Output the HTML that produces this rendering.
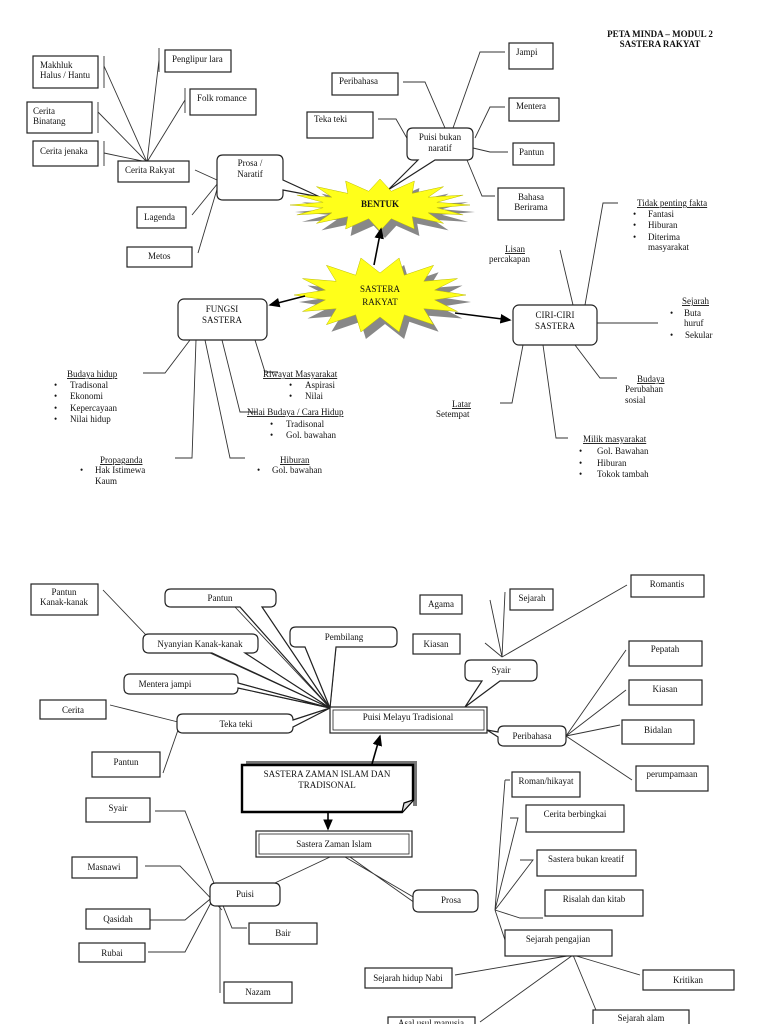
<!DOCTYPE html>
<html><head><meta charset="utf-8"><style>
html,body{margin:0;padding:0;background:#fff}
svg{display:block}
text{font-family:"Liberation Serif",serif;font-size:9px;fill:#111}
.b{fill:#fff;stroke:#222;stroke-width:1.2}
.l{fill:none;stroke:#333;stroke-width:0.9}
.u{text-decoration:underline}
</style></head><body>
<svg id="s" width="768" height="1024" viewBox="0 0 768 1024" xmlns="http://www.w3.org/2000/svg">
<defs><marker id="a" markerWidth="8" markerHeight="8" refX="6" refY="3" orient="auto"><path d="M0,0 L7,3 L0,6 z" fill="#000"/></marker></defs>

<text x="660" y="37" text-anchor="middle" font-weight="bold">PETA MINDA – MODUL 2</text>
<text x="660" y="47" text-anchor="middle" font-weight="bold">SASTERA RAKYAT</text>

<!-- top-left lines -->
<g class="l">
<path d="M104,56V88M159,48V72M185,88V113M98,102V133M104,141V166"/>
<path d="M104,66L147,162M159,60L147,162M185,100L147,162M98,112L147,162M104,153L147,162"/>
<path d="M195,170L217,180M192,215L218,183M198,253L218,186"/>
<path d="M403,82H425L445,128M378,119H396L408,140M453,128L480,52H505M475,138L490,107H505M473,148L490,152H508M467,160L482,196H495"/>
<path d="M560,250L573,305M585,305L603,203H618M597,323H658M575,345L600,378H617M523,345L512,403H500M543,345L556,438H568"/>
<path d="M190,340L165,373H143M196,340L192,458H175M205,340L230,458H245M222,340L240,412H257M255,340L265,372H278"/>
</g>

<!-- top boxes -->
<rect class="b" x="33" y="56" width="65" height="32"/><text x="40" y="68">Makhluk</text><text x="40" y="78">Halus / Hantu</text>
<rect class="b" x="165" y="50" width="66" height="22"/><text x="172" y="62">Penglipur lara</text>
<rect class="b" x="190" y="89" width="66" height="26"/><text x="197" y="101">Folk romance</text>
<rect class="b" x="27" y="102" width="65" height="31"/><text x="33" y="114">Cerita</text><text x="33" y="124">Binatang</text>
<rect class="b" x="33" y="141" width="65" height="25"/><text x="40" y="154">Cerita jenaka</text>
<rect class="b" x="118" y="161" width="71" height="21"/><text x="125" y="173">Cerita Rakyat</text>
<path class="b" d="M223,155H277Q283,155 283,161V180L320,197L283,190V194Q283,200 277,200H223Q217,200 217,194V161Q217,155 223,155Z"/>
<text x="250" y="166" text-anchor="middle">Prosa /</text><text x="250" y="177" text-anchor="middle">Naratif</text>
<rect class="b" x="137" y="207" width="49" height="21"/><text x="144" y="220">Lagenda</text>
<rect class="b" x="127" y="247" width="65" height="20"/><text x="148" y="259">Metos</text>
<rect class="b" x="332" y="73" width="66" height="22"/><text x="339" y="84">Peribahasa</text>
<rect class="b" x="307" y="112" width="66" height="26"/><text x="314" y="122">Teka teki</text>
<path class="b" d="M413,128H467Q473,128 473,134V154Q473,160 467,160H435L388,190L418,160H413Q407,160 407,154V134Q407,128 413,128Z"/>
<text x="440" y="140" text-anchor="middle">Puisi bukan</text><text x="440" y="151" text-anchor="middle">naratif</text>
<rect class="b" x="509" y="43" width="44" height="26"/><text x="516" y="55">Jampi</text>
<rect class="b" x="509" y="98" width="50" height="23"/><text x="516" y="109">Mentera</text>
<rect class="b" x="513" y="143" width="41" height="22"/><text x="519" y="155">Pantun</text>
<rect class="b" x="498" y="188" width="66" height="32"/><text x="531" y="200" text-anchor="middle">Bahasa</text><text x="531" y="210" text-anchor="middle">Berirama</text>

<g id="stars"></g>
<text x="380" y="207" text-anchor="middle" font-size="8" font-weight="bold" fill="#222">BENTUK</text>
<text x="380" y="292" text-anchor="middle" font-size="10">SASTERA</text>
<text x="380" y="305" text-anchor="middle" font-size="10">RAKYAT</text>

<g stroke="#000" stroke-width="1.6" marker-end="url(#a)">
<line x1="374" y1="265" x2="381" y2="229"/>
<line x1="305" y1="296" x2="270" y2="305"/>
<line x1="455" y1="313" x2="510" y2="320"/>
</g>
<rect class="b" x="178" y="299" width="89" height="41" rx="6"/><text x="222" y="312" text-anchor="middle">FUNGSI</text><text x="222" y="323" text-anchor="middle">SASTERA</text>
<rect class="b" x="513" y="305" width="84" height="40" rx="6"/><text x="555" y="318" text-anchor="middle">CIRI-CIRI</text><text x="555" y="329" text-anchor="middle">SASTERA</text>

<text x="637" y="206" class="u">Tidak penting fakta</text>
<text x="633" y="217">•</text><text x="648" y="217">Fantasi</text>
<text x="633" y="228">•</text><text x="648" y="228">Hiburan</text>
<text x="633" y="240">•</text><text x="648" y="240">Diterima</text>
<text x="648" y="250">masyarakat</text>
<text x="505" y="252" class="u">Lisan</text><text x="489" y="262">percakapan</text>
<text x="682" y="304" class="u">Sejarah</text>
<text x="670" y="316">•</text><text x="684" y="316">Buta</text><text x="684" y="326">huruf</text>
<text x="670" y="338">•</text><text x="685" y="338">Sekular</text>
<text x="637" y="382" class="u">Budaya</text><text x="625" y="392">Perubahan</text><text x="625" y="403">sosial</text>
<text x="452" y="407" class="u">Latar</text><text x="436" y="417">Setempat</text>
<text x="583" y="442" class="u">Milik masyarakat</text>
<text x="579" y="454">•</text><text x="597" y="454">Gol. Bawahan</text>
<text x="579" y="466">•</text><text x="597" y="466">Hiburan</text>
<text x="579" y="477">•</text><text x="597" y="477">Tokok tambah</text>
<text x="67" y="377" class="u">Budaya hidup</text>
<text x="54" y="388">•</text><text x="70" y="388">Tradisonal</text>
<text x="54" y="399">•</text><text x="70" y="399">Ekonomi</text>
<text x="54" y="411">•</text><text x="70" y="411">Kepercayaan</text>
<text x="54" y="422">•</text><text x="70" y="422">Nilai hidup</text>
<text x="263" y="377" class="u">Riwayat Masyarakat</text>
<text x="289" y="388">•</text><text x="305" y="388">Aspirasi</text>
<text x="289" y="399">•</text><text x="305" y="399">Nilai</text>
<text x="247" y="415" class="u">Nilai Budaya  / Cara Hidup</text>
<text x="270" y="427">•</text><text x="286" y="427">Tradisonal</text>
<text x="270" y="438">•</text><text x="286" y="438">Gol. bawahan</text>
<text x="100" y="463" class="u">Propaganda</text>
<text x="80" y="473">•</text><text x="95" y="473">Hak Istimewa</text><text x="95" y="484">Kaum</text>
<text x="280" y="463" class="u">Hiburan</text>
<text x="257" y="473">•</text><text x="272" y="473">Gol. bawahan</text>

<!-- bottom lines -->
<g class="l">
<path d="M103,590L147,636M210,653L330,708M245,653L330,708M235,607L330,708M262,607L330,708M305,647L330,708M336,647L330,708M238,683L330,708M238,688L330,708M293,720L330,708M293,727L330,708"/>
<path d="M110,705L178,722M163,773L178,730"/>
<path d="M490,600L502,657M505,592L502,657M627,585L502,657M485,643L502,657"/>
<path d="M566,736L626,650M566,736L626,690M566,736L620,725M566,736L632,780M487,730L500,736"/>
<path d="M155,811H185L232,928H247M145,866H180L222,910M150,920H185L215,895M148,952H185L215,895M220,993V895L215,895M213,898L217,900"/>
<path d="M330,857L260,890M345,857L415,898M350,857L415,903"/>
<path d="M505,780L495,910M505,780H510M510,818H518L495,910M520,860H533L495,910M495,910L520,918H543M495,910L505,940H510"/>
<path d="M573,955L455,975M573,955L640,975M573,955L598,1015M573,955L480,1022"/>
</g>

<rect class="b" x="31" y="584" width="67" height="31"/><text x="64" y="595" text-anchor="middle">Pantun</text><text x="64" y="605" text-anchor="middle">Kanak-kanak</text>
<path class="b" d="M171,589H270Q276,589 276,595V601Q276,607 270,607H262L330,708L240,607H171Q165,607 165,601V595Q165,589 171,589Z"/><text x="220" y="601" text-anchor="middle">Pantun</text>
<path class="b" d="M149,634H252Q258,634 258,640V647Q258,653 252,653H245L330,708L212,653H149Q143,653 143,647V640Q143,634 149,634Z"/><text x="200" y="647" text-anchor="middle">Nyanyian Kanak-kanak</text>
<path class="b" d="M296,627H391Q397,627 397,633V641Q397,647 391,647H336L330,708L305,647H296Q290,647 290,641V633Q290,627 296,627Z"/><text x="344" y="640" text-anchor="middle">Pembilang</text>
<path class="b" d="M130,674H232Q238,674 238,680V683L330,708L238,688V688Q238,694 232,694H130Q124,694 124,688V680Q124,674 130,674Z"/><text x="165" y="687" text-anchor="middle">Mentera jampi</text>
<rect class="b" x="40" y="700" width="66" height="19"/><text x="73" y="713" text-anchor="middle">Cerita</text>
<path class="b" d="M183,714H287Q293,714 293,720L330,708L293,727Q293,733 287,733H183Q177,733 177,727V720Q177,714 183,714Z"/><text x="236" y="727" text-anchor="middle">Teka teki</text>
<rect class="b" x="92" y="752" width="68" height="25"/><text x="126" y="765" text-anchor="middle">Pantun</text>
<rect class="b" x="420" y="595" width="42" height="19"/><text x="441" y="607" text-anchor="middle">Agama</text>
<rect class="b" x="510" y="589" width="43" height="21"/><text x="532" y="601" text-anchor="middle">Sejarah</text>
<rect class="b" x="631" y="575" width="73" height="22"/><text x="667" y="587" text-anchor="middle">Romantis</text>
<rect class="b" x="413" y="634" width="47" height="20"/><text x="436" y="647" text-anchor="middle">Kiasan</text>
<path class="b" d="M471,660H531Q537,660 537,666V675Q537,681 531,681H500L465,707L482,681H471Q465,681 465,675V666Q465,660 471,660Z"/><text x="501" y="673" text-anchor="middle">Syair</text>
<rect class="b" x="629" y="641" width="73" height="25"/><text x="665" y="652" text-anchor="middle">Pepatah</text>
<rect class="b" x="629" y="680" width="73" height="25"/><text x="665" y="692" text-anchor="middle">Kiasan</text>
<rect class="b" x="622" y="720" width="72" height="24"/><text x="658" y="733" text-anchor="middle">Bidalan</text>
<rect class="b" x="636" y="766" width="72" height="25"/><text x="672" y="777" text-anchor="middle">perumpamaan</text>
<path class="b" d="M504,726H560Q566,726 566,732V740Q566,746 560,746H504Q498,746 498,740V737L487,730L498,732Q498,726 504,726Z"/><text x="532" y="739" text-anchor="middle">Peribahasa</text>
<rect class="b" x="330" y="707" width="157" height="26" stroke-width="1.6"/><rect x="333" y="710" width="151" height="20" fill="none" stroke="#222" stroke-width="0.8"/><text x="408" y="720" text-anchor="middle">Puisi Melayu Tradisional</text>

<path d="M246,761H417V806H413V765H246Z" fill="#777"/>
<path d="M242,765H413V800L402,812H242Z" fill="#fff" stroke="#000" stroke-width="2.4"/>
<path d="M402,812L404,803L413,800" fill="#ddd" stroke="#000" stroke-width="1.2"/>
<text x="327" y="777" text-anchor="middle">SASTERA ZAMAN ISLAM DAN</text><text x="327" y="788" text-anchor="middle">TRADISONAL</text>
<g stroke="#000" stroke-width="1.6" marker-end="url(#a)"><line x1="372" y1="764" x2="380" y2="736"/><line x1="328" y1="813" x2="328" y2="829"/></g>

<rect class="b" x="256" y="831" width="156" height="26" stroke-width="1.6"/><rect x="259" y="834" width="150" height="20" fill="none" stroke="#222" stroke-width="0.8"/><text x="334" y="847" text-anchor="middle">Sastera Zaman Islam</text>
<rect class="b" x="512" y="772" width="68" height="25"/><text x="546" y="784" text-anchor="middle">Roman/hikayat</text>
<rect class="b" x="526" y="805" width="98" height="27"/><text x="575" y="817" text-anchor="middle">Cerita berbingkai</text>
<rect class="b" x="537" y="850" width="99" height="26"/><text x="586" y="862" text-anchor="middle">Sastera bukan kreatif</text>
<rect class="b" x="545" y="890" width="98" height="26"/><text x="594" y="902" text-anchor="middle">Risalah dan kitab</text>
<rect class="b" x="505" y="930" width="107" height="26"/><text x="558" y="942" text-anchor="middle">Sejarah pengajian</text>
<rect class="b" x="86" y="798" width="64" height="24"/><text x="118" y="811" text-anchor="middle">Syair</text>
<rect class="b" x="72" y="857" width="65" height="21"/><text x="104" y="870" text-anchor="middle">Masnawi</text>
<path class="b" d="M216,883H274Q280,883 280,889V900Q280,906 274,906H216Q210,906 210,900V889Q210,883 216,883Z"/><text x="245" y="897" text-anchor="middle">Puisi</text>
<path class="b" d="M419,890H472Q478,890 478,896V906Q478,912 472,912H419Q413,912 413,906V896Q413,890 419,890Z"/><text x="451" y="903" text-anchor="middle">Prosa</text>
<rect class="b" x="86" y="909" width="64" height="20"/><text x="118" y="922" text-anchor="middle">Qasidah</text>
<rect class="b" x="249" y="923" width="68" height="21"/><text x="283" y="936" text-anchor="middle">Bair</text>
<rect class="b" x="79" y="943" width="66" height="19"/><text x="112" y="956" text-anchor="middle">Rubai</text>
<rect class="b" x="224" y="982" width="68" height="21"/><text x="258" y="995" text-anchor="middle">Nazam</text>
<rect class="b" x="365" y="968" width="87" height="20"/><text x="408" y="981" text-anchor="middle">Sejarah hidup Nabi</text>
<rect class="b" x="643" y="970" width="91" height="20"/><text x="688" y="983" text-anchor="middle">Kritikan</text>
<rect class="b" x="388" y="1017" width="87" height="12"/><text x="431" y="1026" text-anchor="middle">Asal usul manusia</text>
<rect class="b" x="593" y="1010" width="96" height="20"/><text x="641" y="1021" text-anchor="middle">Sejarah alam</text>
</svg>
<script>
function star(cx,cy,rx,ry,ix,iy,n,fill,dx,dy){var p=[];for(var i=0;i<2*n;i++){var a=Math.PI*i/n;var r=i%2?[ix,iy]:[rx,ry];p.push((cx+dx+r[0]*Math.cos(a)).toFixed(1)+','+(cy+dy+r[1]*Math.sin(a)).toFixed(1));}
var e=document.createElementNS('http://www.w3.org/2000/svg','polygon');e.setAttribute('points',p.join(' '));e.setAttribute('fill',fill);if(fill!='#888'){e.setAttribute('stroke','#bb0');e.setAttribute('stroke-width','0.5');}document.getElementById('stars').appendChild(e);}
star(382,208,90,26,58,14,16,'#888',3,4);
star(380,205,90,26,58,14,16,'#ffff1a',0,0);
star(382,298,86,38,56,22,14,'#888',3,4);
star(380,295,86,38,56,22,14,'#ffff1a',0,0);
</script>
</body></html>
